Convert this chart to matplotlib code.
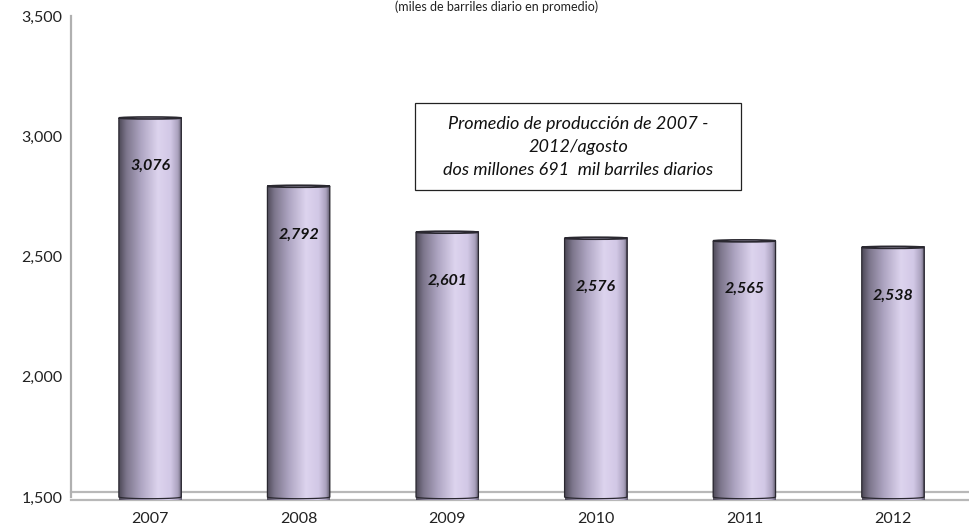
import matplotlib

matplotlib.use("Agg")
import matplotlib.pyplot as plt
import numpy as np
from matplotlib.colors import LinearSegmentedColormap
from matplotlib.patches import Ellipse, Rectangle, PathPatch
from matplotlib.path import Path

years = ["2007", "2008", "2009", "2010", "2011", "2012"]
values = [3076, 2792, 2601, 2576, 2565, 2538]
labels = ["3,076", "2,792", "2,601", "2,576", "2,565", "2,538"]
yticks = [1500, 2000, 2500, 3000, 3500]
note = "Promedio de producción de 2007 -\n2012/agosto\ndos millones 691  mil barriles diarios"
subtitle = "(miles de barriles diario en promedio)"

plt.rcParams["font.family"] = ["Lato", "DejaVu Sans"]

BASE = 1500
W = 0.42      # bar width in category units
EH = 14       # ellipse height in data units

cmap = LinearSegmentedColormap.from_list("cyl", [
    (0.0, "#4e4a58"), (0.12, "#7d768c"), (0.35, "#aea5c2"),
    (0.62, "#ddd4ee"), (0.82, "#d2c8e6"), (0.94, "#aaa1bd"), (1.0, "#5e5a6a")])

fig = plt.figure(figsize=(9.7, 5.27), dpi=100)
ax = fig.add_axes([71 / 970, 30 / 527, 894 / 970, 481 / 527])
ax.set_xlim(-0.532, 5.485)
ax.set_ylim(1500, 3500)

grad = np.linspace(0, 1, 256).reshape(1, -1)
for i, v in enumerate(values):
    x0, x1 = i - W / 2, i + W / 2
    # body + rounded bottom as one clip path
    verts = [(x0, v), (x0, BASE)]
    t = np.linspace(np.pi, 2 * np.pi, 30)
    verts += [(i + W / 2 * np.cos(a), BASE + EH / 2 * np.sin(a)) for a in t]
    verts += [(x1, v), (x0, v)]
    path = Path(verts)
    clip = PathPatch(path, transform=ax.transData, facecolor="none", edgecolor="none")
    ax.add_patch(clip)
    im = ax.imshow(grad, cmap=cmap, extent=(x0, x1, BASE - EH, v), aspect="auto",
                   zorder=2, interpolation="bicubic")
    im.set_clip_path(clip)
    im.set_clip_on(False)
    # outline of body
    ax.add_patch(PathPatch(path, facecolor="none", edgecolor="#2a2830", lw=0.9,
                           zorder=3, clip_on=False))
    # top cap
    ax.add_patch(Ellipse((i, v), W, EH * 0.6, facecolor="#c9c0da", edgecolor="#2a2830",
                         lw=1.2, zorder=4))
    ax.text(i, v - 200, labels[i], ha="center", va="center", fontsize=11.5,
            fontweight="bold", fontstyle="italic", color="#111111", zorder=5)

# floor of the 3-D plot
for yy in (BASE + 20, BASE - 12):
    ax.plot([-0.532, 5.6], [yy, yy], color="#b8b8b8", lw=1.6, zorder=1, clip_on=False)

ax.set_xticks(range(len(years)))
ax.set_xticklabels(years)
ax.set_yticks(yticks)
ax.set_yticklabels([f"{t:,}" for t in yticks])
ax.tick_params(length=0, labelsize=11.5, colors="#222222")
ax.tick_params(axis="x", pad=11)
ax.tick_params(axis="y", pad=6)
for s in ("top", "right", "bottom"):
    ax.spines[s].set_visible(False)
ax.spines["left"].set_color("#b0b0b0")
ax.spines["left"].set_linewidth(1.6)

# note box
ax.add_patch(Rectangle((1.783, 2776), 2.194, 362, facecolor="white", edgecolor="#222222",
                       lw=0.9, zorder=6))
ax.text(2.88, 2955, note, ha="center", va="center", fontsize=13, fontstyle="italic",
        linespacing=1.55, color="#111111", zorder=7)

fig.text(497 / 970, 0.999, subtitle, ha="center", va="top", fontsize=9, color="#222222")

fig.savefig("out.png", dpi=100)
